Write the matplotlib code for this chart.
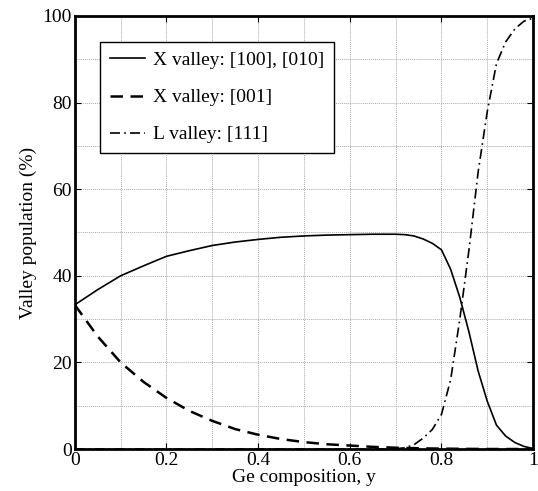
import matplotlib
matplotlib.use('Agg')
import matplotlib.pyplot as plt
from matplotlib.ticker import MultipleLocator

plt.rcParams['font.family'] = ['Liberation Serif', 'DejaVu Serif']

# Ge composition
ge = [0.0, 0.05, 0.10, 0.15, 0.20, 0.25, 0.30, 0.35, 0.40, 0.45, 0.50, 0.55,
      0.60, 0.65, 0.70, 0.72, 0.74, 0.76, 0.78, 0.80, 0.82, 0.84, 0.86, 0.88,
      0.90, 0.92, 0.94, 0.96, 0.98, 1.00]
# valley populations (%)
x_100_010 = [33.3, 36.8, 40.0, 42.3, 44.5, 45.8, 47.0, 47.8, 48.4, 48.9, 49.2, 49.4,
             49.5, 49.6, 49.6, 49.5, 49.2, 48.5, 47.5, 46.0, 41.5, 35.0, 27.0, 18.0,
             11.0, 5.5, 3.0, 1.5, 0.6, 0.1]
x_001 = [33.3, 26.0, 20.0, 15.5, 11.8, 8.8, 6.5, 4.6, 3.3, 2.3, 1.6, 1.1,
         0.8, 0.5, 0.3, 0.25, 0.2, 0.15, 0.12, 0.1, 0.07, 0.05, 0.03, 0.02,
         0.0, 0.0, 0.0, 0.0, 0.0, 0.0]
l_111 = [0.0, 0.0, 0.0, 0.0, 0.0, 0.0, 0.0, 0.0, 0.0, 0.0, 0.0, 0.0,
         0.0, 0.0, 0.05, 0.3, 1.0, 2.5, 4.5, 8.0, 16.0, 30.0, 46.0, 64.0,
         78.0, 89.0, 94.0, 97.0, 98.8, 99.5]
x_ticks = [0, 0.2, 0.4, 0.6, 0.8, 1.0]
x_ticklabels = ['0', '0.2', '0.4', '0.6', '0.8', '1']

fig = plt.figure(figsize=(5.38, 4.91), dpi=100)
ax = fig.add_axes([0.139, 0.0855, 0.852, 0.882])

ax.plot(ge, x_100_010, 'k-', lw=1.2, label='X valley: [100], [010]')
ax.plot(ge, x_001, 'k--', lw=1.8, dashes=(5, 3), label='X valley: [001]')
ax.plot(ge, l_111, 'k-.', lw=1.2, dashes=(6, 2.5, 1, 2.5), label='L valley: [111]')

ax.set_xlim(0, 1)
ax.set_ylim(0, 100)
ax.set_xticks(x_ticks)
ax.set_xticklabels(x_ticklabels)
ax.xaxis.set_minor_locator(MultipleLocator(0.1))
ax.yaxis.set_major_locator(MultipleLocator(20))
ax.yaxis.set_minor_locator(MultipleLocator(10))
ax.grid(which='both', color='#aaaaaa', ls=(0, (1, 1)), lw=0.7)
ax.tick_params(which='both', direction='in', top=True, right=True, labelsize=14, pad=2)
ax.tick_params(which='major', length=4)
ax.tick_params(which='minor', length=0)
for s in ax.spines.values():
    s.set_linewidth(2)

ax.set_xlabel('Ge composition, y', fontsize=14, labelpad=0.5)
ax.set_ylabel('Valley population (%)', fontsize=14, labelpad=4)

leg = ax.legend(loc='upper left', bbox_to_anchor=(0.055, 0.94), fontsize=14,
                fancybox=False, framealpha=1, edgecolor='black',
                handlelength=1.8, handletextpad=0.45, labelspacing=1.0,
                borderpad=0.5, borderaxespad=0)
leg.get_frame().set_linewidth(1.0)

fig.savefig('out.png', dpi=100)
